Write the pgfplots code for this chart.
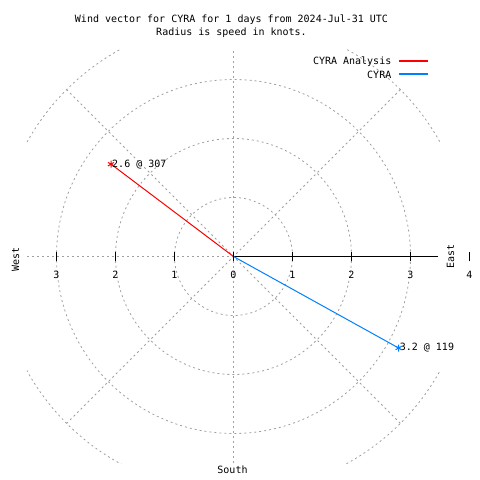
\documentclass[border=0pt]{standalone}
\usepackage{pgfplots}
\pgfplotsset{compat=1.18}
\usepackage{fontspec}
\setmainfont{DejaVu Sans Mono}
\definecolor{gridgray}{RGB}{160,160,160}
\definecolor{cyrablue}{RGB}{0,128,255}
\definecolor{cyrared}{RGB}{255,0,0}
\begin{document}
\fontsize{10bp}{13bp}\selectfont
\begin{tikzpicture}
\path[use as bounding box] (-233.5bp,-223.5bp) rectangle (246.5bp,256.5bp);
\begin{axis}[
  at={(0,0)}, anchor=center,
  scale only axis, width=413bp, height=413bp,
  xmin=-3.5, xmax=3.5, ymin=-3.5, ymax=3.5,
  hide axis, clip=false,
]
\begin{scope}
  \clip (axis cs:-3.5,-3.5) rectangle (axis cs:3.5,3.5);
  \begin{scope}[gridgray, line width=0.8bp, dash pattern=on 2bp off 3bp]
    \draw (axis cs:0,0) circle[radius=59bp];
    \draw (axis cs:0,0) circle[radius=118bp];
    \draw (axis cs:0,0) circle[radius=177bp];
    \draw (axis cs:0,0) circle[radius=236bp];
    \draw (axis cs:-2.83,-2.83) -- (axis cs:2.83,2.83);
    \draw (axis cs:-2.83,2.83) -- (axis cs:2.83,-2.83);
    \draw (axis cs:0,-3.5) -- (axis cs:0,3.5);
    \draw (axis cs:-3.5,0) -- (axis cs:0,0);
  \end{scope}
  \draw[black, line width=1bp] (axis cs:0,0) -- (axis cs:3.47,0);
\end{scope}
\addplot[cyrared, line width=1bp, mark=asterisk, mark size=3.5bp, mark indices={2}]
  coordinates {(0,0) (-2.076,1.565)};
\addplot[cyrablue, line width=1bp, mark=asterisk, mark size=3.5bp, mark indices={2}]
  coordinates {(0,0) (2.799,-1.551)};
\node[anchor=west, inner sep=0pt, xshift=1bp] at (axis cs:-2.076,1.565) {2.6 @ 307};
\node[anchor=west, inner sep=0pt, xshift=1bp] at (axis cs:2.799,-1.551) {3.2 @ 119};
\end{axis}
% radial axis ticks
\draw[black, line width=1.2bp] (-177bp,-4.5bp) -- (-177bp,4.5bp);
\draw[black, line width=1.2bp] (-118bp,-4.5bp) -- (-118bp,4.5bp);
\draw[black, line width=1.2bp] (-59bp,-4.5bp) -- (-59bp,4.5bp);
\draw[black, line width=1.2bp] (0bp,-4.5bp) -- (0bp,4.5bp);
\draw[black, line width=1.2bp] (59bp,-4.5bp) -- (59bp,4.5bp);
\draw[black, line width=1.2bp] (118bp,-4.5bp) -- (118bp,4.5bp);
\draw[black, line width=1.2bp] (177bp,-4.5bp) -- (177bp,4.5bp);
\draw[black, line width=1.2bp] (236bp,-4.5bp) -- (236bp,4.5bp);
\node[inner sep=0pt] at (-177bp,-18bp) {3};
\node[inner sep=0pt] at (-118bp,-18bp) {2};
\node[inner sep=0pt] at (-59bp,-18bp) {1};
\node[inner sep=0pt] at (0bp,-18bp) {0};
\node[inner sep=0pt] at (59bp,-18bp) {1};
\node[inner sep=0pt] at (118bp,-18bp) {2};
\node[inner sep=0pt] at (177bp,-18bp) {3};
\node[inner sep=0pt] at (236bp,-18bp) {4};
% legend
\node[anchor=east, inner sep=0pt] at (158bp,195bp) {CYRA Analysis};
\draw[cyrared, line width=1.5bp] (165bp,195.5bp) -- (194bp,195.5bp);
\node[anchor=east, inner sep=0pt] at (158bp,182bp) {CYRA};
\draw[cyrablue, line width=1.5bp] (165bp,182.5bp) -- (194bp,182.5bp);
% titles
\node[align=center, inner sep=0pt] at (-2bp,230.5bp) {Wind vector for CYRA for 1 days from 2024-Jul-31 UTC\\Radius is speed in knots.};
\node[rotate=90, inner sep=0pt] at (-218bp,-3bp) {West};
\node[rotate=90, inner sep=0pt] at (217bp,0bp) {East};
\node[inner sep=0pt] at (-1bp,-213bp) {South};
\end{tikzpicture}
\end{document}
